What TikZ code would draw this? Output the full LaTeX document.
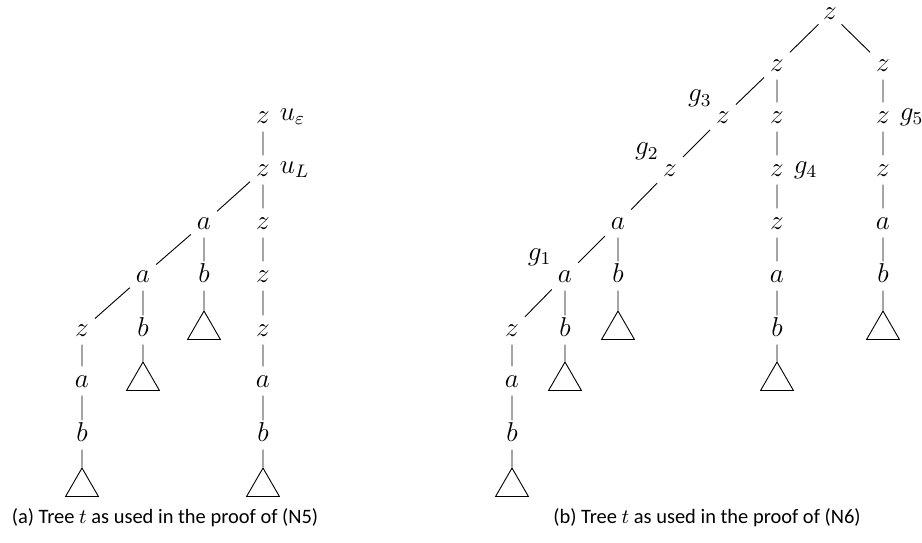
\documentclass[tikz,border=0pt]{standalone}
\usepackage{fontspec}
\setsansfont{Carlito}
\usetikzlibrary{positioning,shapes.geometric}

\begin{document}
\begin{tikzpicture}[
  x=0.44pt,y=-0.44pt,
  sym/.style={inner sep=2.5pt,font=\large,text height=1.5ex,text depth=.25ex},
  lab/.style={inner sep=0pt,font=\large},
  leaf/.style={draw,regular polygon,regular polygon sides=3,minimum size=16.7pt,inner sep=0pt},
  edge/.style={line width=0.4pt},
  subcap/.style={font=\sffamily\fontsize{9}{11}\selectfont}]
  \useasboundingbox (0,0) rectangle (922,543);
  % tree (a)
  \node[sym] (a0) at (263,117) {$z$};
  \node[lab,right=1.5pt of a0] (ueps) {$u_\varepsilon$};
  \node[sym] (a1) at (263,170) {$z$};
  \node[lab,right=1.5pt of a1] (uL) {$u_L$};
  \node[sym] (a2) at (204,223) {$a$};
  \node[sym] (a3) at (263,223) {$z$};
  \node[sym] (a4) at (143,276) {$a$};
  \node[sym] (a5) at (204,276) {$b$};
  \node[sym] (a6) at (263,276) {$z$};
  \node[sym] (a7) at (82,330) {$z$};
  \node[sym] (a8) at (143,330) {$b$};
  \node[leaf] (a9) at (204,330) {};
  \node[sym] (a10) at (263,330) {$z$};
  \node[sym] (a11) at (82,381) {$a$};
  \node[leaf] (a12) at (143,381) {};
  \node[sym] (a13) at (263,381) {$a$};
  \node[sym] (a14) at (82,435) {$b$};
  \node[sym] (a15) at (263,435) {$b$};
  \node[leaf] (a16) at (82,487) {};
  \node[leaf] (a17) at (263,487) {};
  \draw[edge] (a0) -- (a1) (a1) -- (a2) (a1) -- (a3) (a2) -- (a4) (a2) -- (a5)
    (a3) -- (a6) (a4) -- (a7) (a4) -- (a8) (a5) -- (a9) (a6) -- (a10)
    (a7) -- (a11) (a8) -- (a12) (a10) -- (a13) (a11) -- (a14) (a13) -- (a15)
    (a14) -- (a16) (a15) -- (a17);
  % tree (b)
  \node[sym,inner ysep=1pt] (b0) at (830,13) {$z$};
  \node[sym] (b1) at (777,65) {$z$};
  \node[sym] (b2) at (883,65) {$z$};
  \node[sym] (b3) at (723,117) {$z$};
  \node[lab,above left=-2.4pt and -0.9pt of b3] (g3) {$g_3$};
  \node[sym] (b4) at (777,117) {$z$};
  \node[sym] (b5) at (883,117) {$z$};
  \node[lab,right=1.5pt of b5] (g5) {$g_5$};
  \node[sym] (b6) at (670,170) {$z$};
  \node[lab,above left=-2.4pt and -0.9pt of b6] (g2) {$g_2$};
  \node[sym] (b7) at (777,170) {$z$};
  \node[lab,right=1.5pt of b7] (g4) {$g_4$};
  \node[sym] (b8) at (883,170) {$z$};
  \node[sym] (b9) at (618,223) {$a$};
  \node[sym] (b10) at (777,223) {$z$};
  \node[sym] (b11) at (883,223) {$a$};
  \node[sym] (b12) at (565,276) {$a$};
  \node[lab,above left=-2pt and 0pt of b12] (g1) {$g_1$};
  \node[sym] (b13) at (618,276) {$b$};
  \node[sym] (b14) at (777,276) {$a$};
  \node[sym] (b15) at (883,276) {$b$};
  \node[sym] (b16) at (512,330) {$z$};
  \node[sym] (b17) at (565,330) {$b$};
  \node[leaf] (b18) at (618,330) {};
  \node[sym] (b19) at (777,330) {$b$};
  \node[leaf] (b20) at (883,330) {};
  \node[sym] (b21) at (512,381) {$a$};
  \node[leaf] (b22) at (565,381) {};
  \node[leaf] (b23) at (777,381) {};
  \node[sym] (b24) at (512,435) {$b$};
  \node[leaf] (b25) at (512,487) {};
  \draw[edge] (b0) -- (b1) (b0) -- (b2) (b1) -- (b3) (b1) -- (b4) (b2) -- (b5)
    (b3) -- (b6) (b4) -- (b7) (b5) -- (b8) (b6) -- (b9) (b7) -- (b10)
    (b8) -- (b11) (b9) -- (b12) (b9) -- (b13) (b10) -- (b14) (b11) -- (b15)
    (b12) -- (b16) (b12) -- (b17) (b13) -- (b18) (b14) -- (b19) (b15) -- (b20)
    (b16) -- (b21) (b17) -- (b22) (b19) -- (b23) (b21) -- (b24) (b24) -- (b25);
  % captions
  \node[subcap] (capa) at (165,518) {(a) Tree $t$ as used in the proof of (N5)};
  \node[subcap] (capb) at (707,518) {(b) Tree $t$ as used in the proof of (N6)};
\end{tikzpicture}
\end{document}
